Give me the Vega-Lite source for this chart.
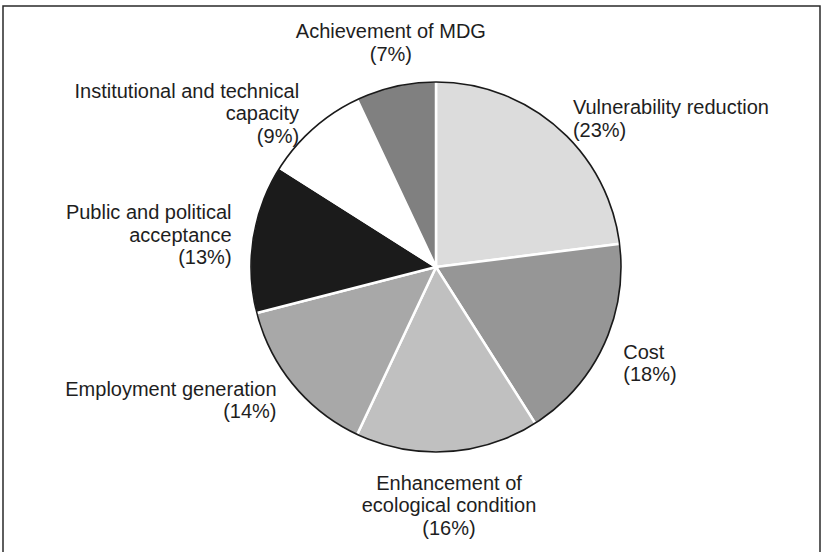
{
  "$schema": "https://vega.github.io/schema/vega-lite/v6.json",
  "width": 817,
  "height": 548,
  "autosize": {"type": "none"},
  "padding": {"left": 3, "top": 6, "right": 1, "bottom": 0},
  "background": "white",
  "view": {"stroke": "#2a2a2a", "strokeWidth": 1.5, "fill": "white"},
  "config": {
    "view": {"stroke": "#2a2a2a", "strokeWidth": 1.5},
    "font": "Liberation Sans"
  },
  "data": {
    "values": [
      {"category": "Vulnerability reduction", "value": 23, "label": "Vulnerability reduction\n(23%)"},
      {"category": "Cost", "value": 18, "label": "Cost\n(18%)"},
      {"category": "Enhancement of ecological condition", "value": 16, "label": "Enhancement of\necological condition\n(16%)"},
      {"category": "Employment generation", "value": 14, "label": "Employment generation\n(14%)"},
      {"category": "Public and political acceptance", "value": 13, "label": "Public and political\nacceptance\n(13%)"},
      {"category": "Institutional and technical capacity", "value": 9, "label": "Institutional and technical\ncapacity\n(9%)"},
      {"category": "Achievement of MDG", "value": 7, "label": "Achievement of MDG\n(7%)"}
    ]
  },
  "layer": [
    {
      "mark": {"type": "arc", "x": 433, "y": 261, "radius": 186, "stroke": "white", "strokeWidth": 2.5},
      "encoding": {
        "theta": {"field": "value", "type": "quantitative", "stack": true, "scale": {"domain": [0, 100]}},
        "order": {"field": "value", "type": "quantitative", "sort": "descending"},
        "color": {
          "field": "category",
          "type": "nominal",
          "legend": null,
          "scale": {
            "domain": ["Vulnerability reduction", "Cost", "Enhancement of ecological condition", "Employment generation", "Public and political acceptance", "Institutional and technical capacity", "Achievement of MDG"],
            "range": ["#dcdcdc", "#969696", "#c0c0c0", "#a8a8a8", "#1b1b1b", "#ffffff", "#808080"]
          }
        }
      }
    },
    {
      "data": {"values": [{"outline": 1}]},
      "mark": {"type": "arc", "x": 433, "y": 261, "radius": 185, "theta": 0, "theta2": 6.2832, "fill": null, "stroke": "#1a1a1a", "strokeWidth": 1.6},
      "encoding": {}
    },
    {
      "mark": {
        "type": "text",
        "x": 433,
        "y": 261,
        "radius": 207,
        "fontSize": 20,
        "lineHeight": 22.5,
        "lineBreak": "\n",
        "color": "#1e1e1e",
        "align": {"expr": "sin(PI*(datum.value_start+datum.value_end)/100) > 0.35 ? 'left' : (sin(PI*(datum.value_start+datum.value_end)/100) < -0.35 ? 'right' : 'center')"},
        "baseline": {"expr": "cos(PI*(datum.value_start+datum.value_end)/100) > 0.8 ? 'bottom' : (cos(PI*(datum.value_start+datum.value_end)/100) < -0.8 ? 'top' : 'middle')"},
        "dy": {"expr": "cos(PI*(datum.value_start+datum.value_end)/100) > 0.8 ? -22.5*(length(split(datum.label, '\\n'))-1) : (cos(PI*(datum.value_start+datum.value_end)/100) < -0.8 ? 0 : 5+4*sin(PI*(datum.value_start+datum.value_end)/100)-11.25*(length(split(datum.label, '\\n'))-1))"}
      },
      "encoding": {
        "theta": {"field": "value", "type": "quantitative", "stack": true, "scale": {"domain": [0, 100]}},
        "order": {"field": "value", "type": "quantitative", "sort": "descending"},
        "detail": {"field": "category", "type": "nominal"},
        "text": {"field": "label", "type": "nominal"}
      }
    }
  ]
}
